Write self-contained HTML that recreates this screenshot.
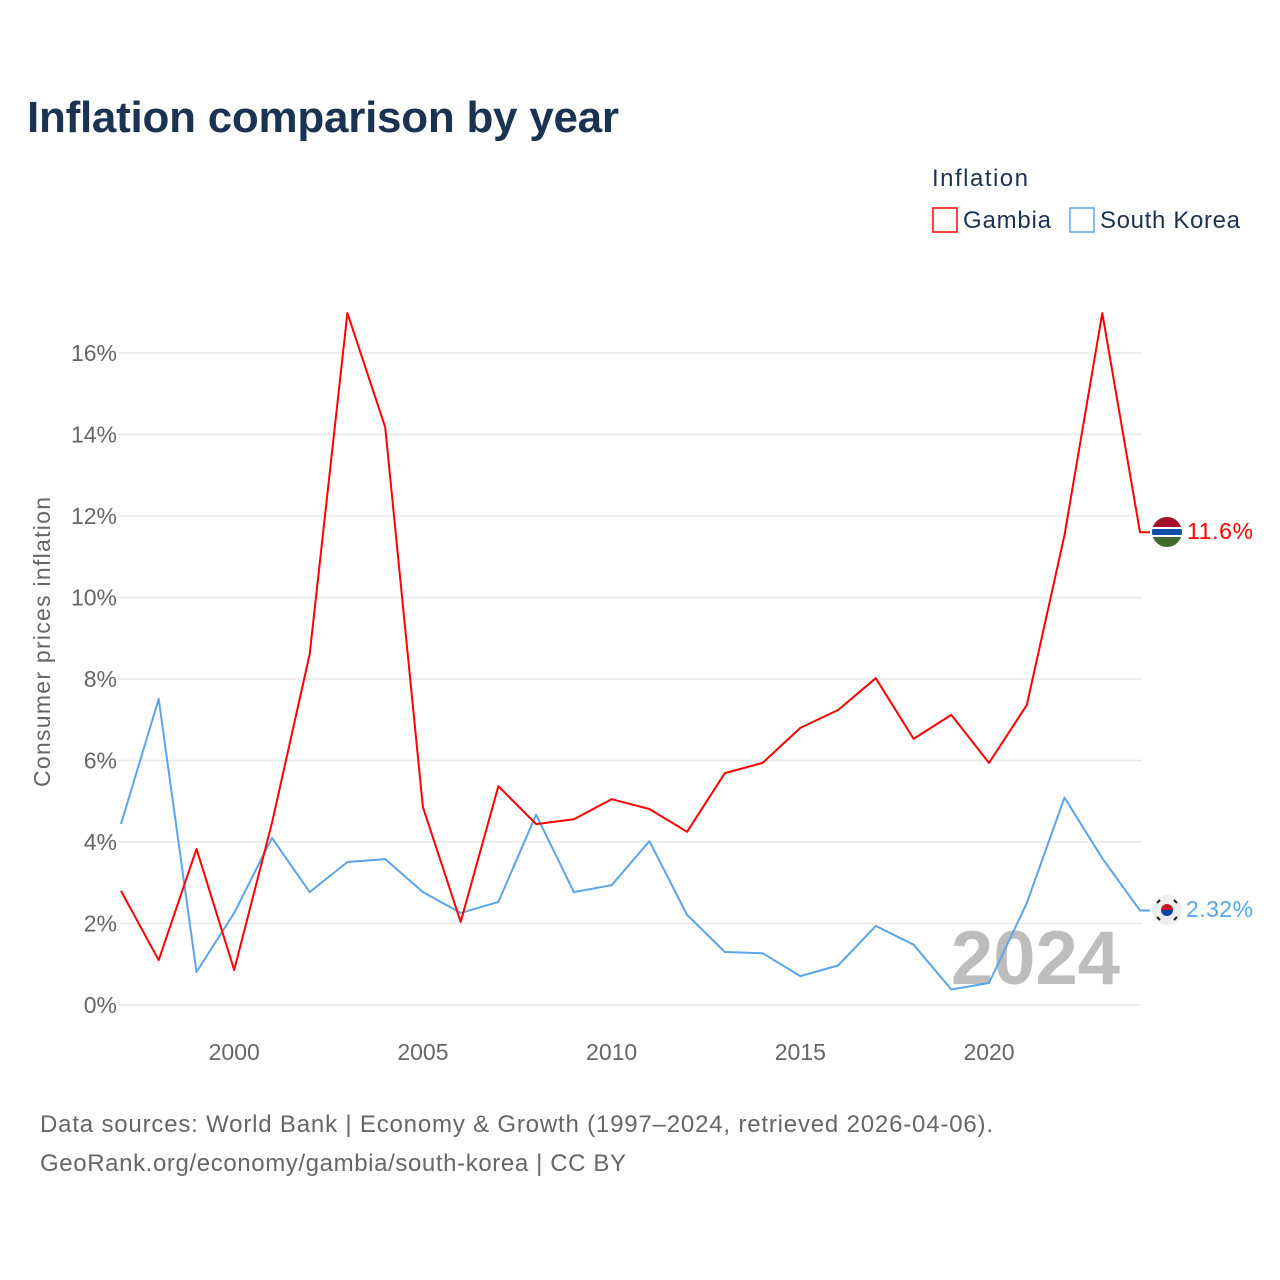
<!DOCTYPE html>
<html><head><meta charset="utf-8"><style>
body{margin:0;background:#fff;font-family:"Liberation Sans",sans-serif;}
svg{display:block}
</style></head><body>
<svg width="1280" height="1280" viewBox="0 0 1280 1280">
<text x="27" y="132" font-size="44" font-weight="bold" fill="#1a3352" textLength="592">Inflation comparison by year</text>
<text x="932" y="186" font-size="24" fill="#1a3352" textLength="96">Inflation</text>
<g><rect x="933" y="208" width="24" height="24" fill="none" stroke="#ff0000" stroke-width="1.5"/><text x="963" y="228" font-size="24" fill="#1a3352" textLength="88">Gambia</text></g>
<g><rect x="1070" y="208" width="24" height="24" fill="none" stroke="#5aa5ea" stroke-width="1.5"/><text x="1100" y="228" font-size="24" fill="#1a3352" textLength="140">South Korea</text></g>
<g id="grid"></g><g id="yt"></g><g id="xt"></g>
<text transform="translate(50,642) rotate(-90)" text-anchor="middle" font-size="23" fill="#666" textLength="290">Consumer prices inflation</text>
<text x="1120" y="984" text-anchor="end" font-size="76" font-weight="bold" fill="#bdbdbd">2024</text>
<g id="series"></g>
<g>
<clipPath id="cg"><circle cx="1167" cy="532" r="15"/></clipPath>
<g clip-path="url(#cg)"><rect x="1150" y="515" width="34" height="12" fill="#a50d2b"/><rect x="1150" y="527" width="34" height="10" fill="#fff"/><rect x="1150" y="529" width="34" height="6" fill="#0c4fa8"/><rect x="1150" y="537" width="34" height="12" fill="#3f6b2c"/></g></g>
<g><circle cx="1167" cy="910" r="15" fill="#eee"/><path d="M1161,910 a6,6 0 0 1 12,0z" fill="#d0112b"/><path d="M1161,910 a6,6 0 0 0 12,0z" fill="#0047a0"/><g stroke="#222" stroke-width="2"><line x1="1157" y1="903" x2="1160" y2="900"/><line x1="1174" y1="900" x2="1177" y2="903"/><line x1="1157" y1="917" x2="1160" y2="920"/><line x1="1174" y1="920" x2="1177" y2="917"/></g></g>
<text x="1187" y="539" font-size="23" fill="#ff0000" textLength="66">11.6%</text>
<text x="1186" y="917" font-size="23" fill="#5aa5ea" textLength="67">2.32%</text>
<text x="40" y="1132" font-size="24" fill="#666" textLength="953">Data sources: World Bank | Economy &amp; Growth (1997–2024, retrieved 2026-04-06).</text>
<text x="40" y="1171" font-size="24" fill="#666" textLength="586">GeoRank.org/economy/gambia/south-korea | CC BY</text>
</svg>
<script>
const years=[1997,1998,1999,2000,2001,2002,2003,2004,2005,2006,2007,2008,2009,2010,2011,2012,2013,2014,2015,2016,2017,2018,2019,2020,2021,2022,2023,2024];
const gambia=[2.8,1.1,3.83,0.86,4.47,8.61,16.98,14.18,4.86,2.04,5.37,4.44,4.56,5.05,4.81,4.25,5.69,5.94,6.8,7.24,8.02,6.53,7.12,5.94,7.36,11.53,16.98,11.6];
const korea=[4.44,7.51,0.81,2.26,4.1,2.77,3.51,3.58,2.77,2.26,2.53,4.67,2.77,2.94,4.02,2.21,1.3,1.27,0.71,0.97,1.94,1.48,0.38,0.54,2.5,5.09,3.6,2.32];
const yTicks=[0,2,4,6,8,10,12,14,16];
const xTicks=[2000,2005,2010,2015,2020];
const NS='http://www.w3.org/2000/svg';
const xS=y=>121+(y-1997)*(1140-121)/27;
const yS=v=>1005-v*40.75;
function mk(t,a,p){const e=document.createElementNS(NS,t);for(const k in a)e.setAttribute(k,a[k]);document.getElementById(p).appendChild(e);return e;}
yTicks.forEach(v=>{
 const l=mk('line',{x1:118,x2:1142,y1:yS(v),y2:yS(v),stroke:'#e8e8e8','stroke-width':1.5},'grid');
 
 
 const t=mk('text',{x:117,y:yS(v)+8,'text-anchor':'end','font-size':23,fill:'#666'},'yt');
 t.textContent=v+'%';
 
 
});
xTicks.forEach(v=>{
 const t=mk('text',{x:xS(v),y:1060,'text-anchor':'middle','font-size':23,fill:'#666'},'xt');
 t.textContent=v;
 
 
});
function line(d,c,n){
 let p=d.map((v,i)=>(i?'L':'M')+xS(years[i]).toFixed(1)+','+yS(v).toFixed(1)).join(' ');
 p+=' L'+(xS(years[years.length-1])+10)+','+yS(d[d.length-1]).toFixed(1);
 const e=mk('path',{d:p,fill:'none',stroke:c,'stroke-width':2,'stroke-linejoin':'round'},'series');
 
 
}
line(korea,'#5aa5ea','south-korea-line');
line(gambia,'#ff0000','gambia-line');
</script>
</body></html>
